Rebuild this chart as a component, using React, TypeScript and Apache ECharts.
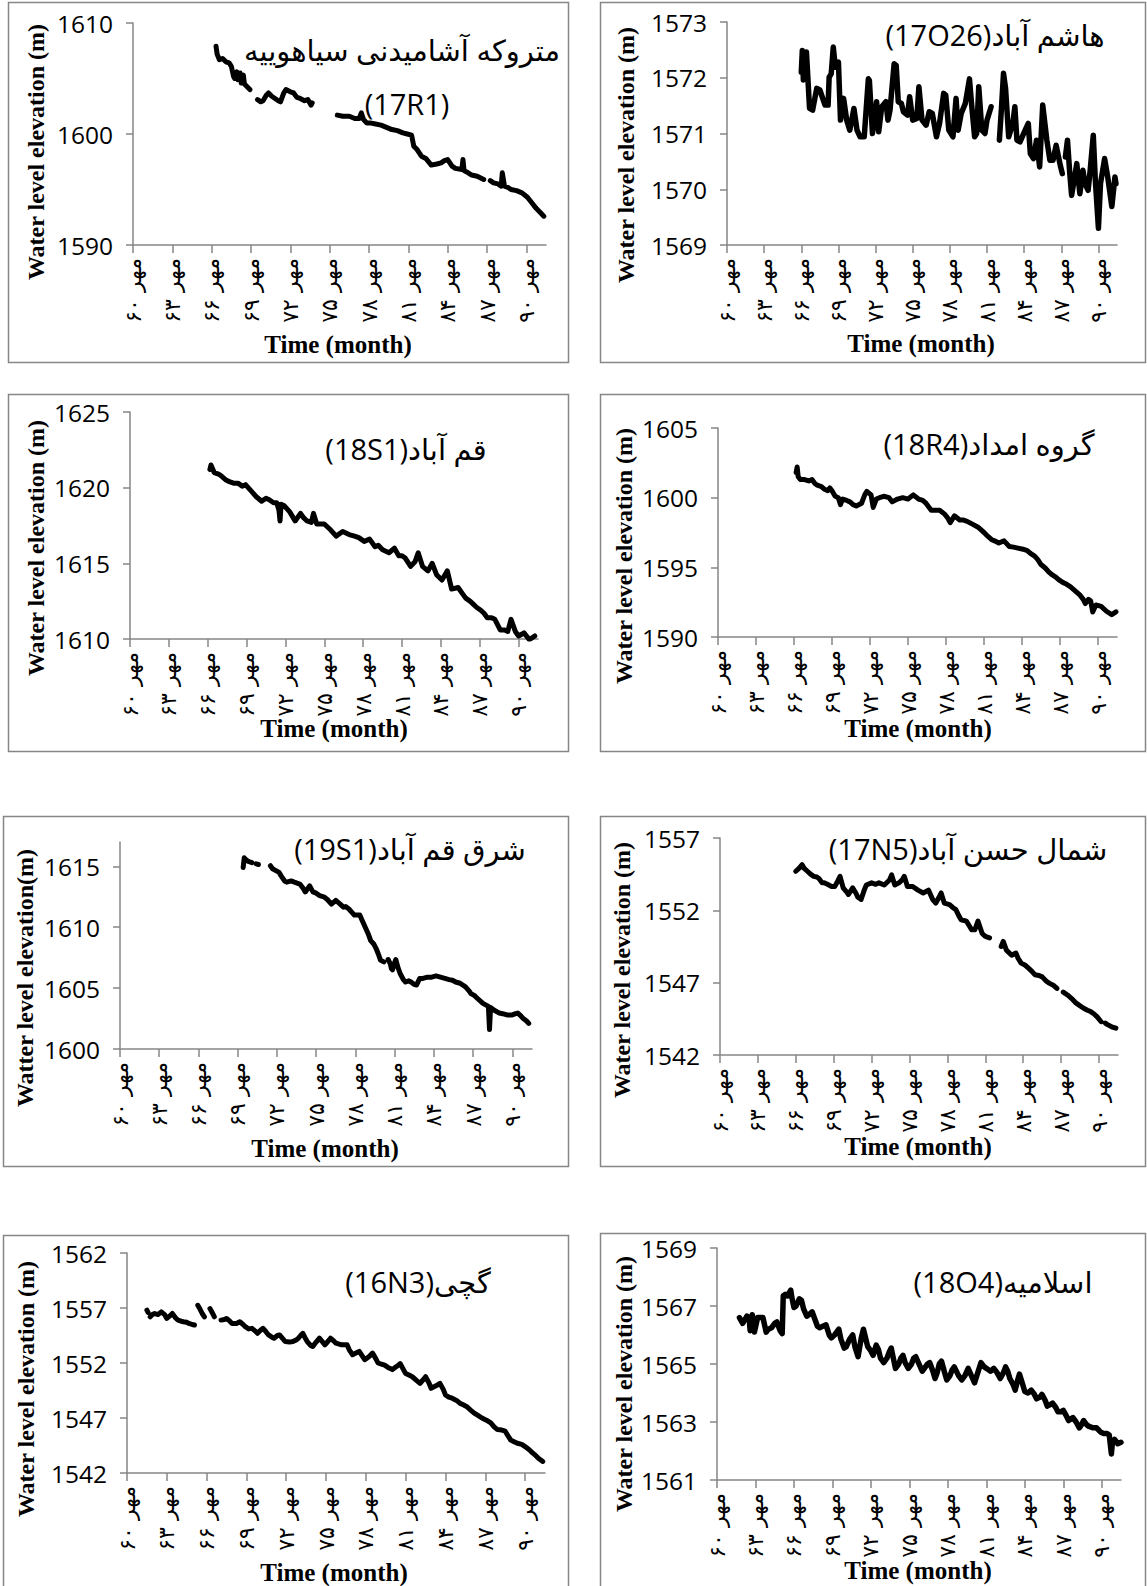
import React, { useEffect, useRef } from 'react';
import * as echarts from 'echarts';

// ---- axis ticks / labels ----
const MONTH_TICKS = [0, 36, 72, 108, 144, 180, 216, 252, 288, 324, 360]; // months since Mehr 1360
const YEAR_LABELS = ['۶۰', '۶۳', '۶۶', '۶۹', '۷۲', '۷۵', '۷۸', '۸۱', '۸۴', '۸۷', '۹۰'];
const MONTH_NAME = 'مهر';
const X_MAX = 378;
const X_TITLE = 'Time (month)';
const Y_TITLE = 'Water level elevation (m)';
const Y_TITLE_19S1 = 'Watter level elevation(m)';

// ---- well names ----
const TITLE_17R1_A = 'متروکه آشامیدنی سیاهوییه';
const TITLE_17R1_B = '(17R1)';
const TITLE_17O26 = '(17O26)هاشم آباد';
const TITLE_18S1 = '(18S1)قم آباد';
const TITLE_18R4 = '(18R4)گروه امداد';
const TITLE_19S1 = '(19S1)شرق قم آباد';
const TITLE_17N5 = '(17N5)شمال حسن آباد';
const TITLE_16N3 = '(16N3)گچی';
const TITLE_18O4 = '(18O4)اسلامیه';

// ---- y ticks ----
const Y_17R1 = [1590, 1600, 1610];
const Y_17O26 = [1569, 1570, 1571, 1572, 1573];
const Y_18S1 = [1610, 1615, 1620, 1625];
const Y_18R4 = [1590, 1595, 1600, 1605];
const Y_19S1 = [1600, 1605, 1610, 1615];
const Y_19S1_MAX = 1617;
const Y_17N5 = [1542, 1547, 1552, 1557];
const Y_16N3 = [1542, 1547, 1552, 1557, 1562];
const Y_18O4 = [1561, 1563, 1565, 1567, 1569];

// ---- series: [month since Mehr 60, water level (m)], null = gap ----
const S_17R1: [number, number | null][] = [[76,1607.9],[77,1607.2],[79,1606.7],[82,1606.8],[85,1606.5],[88,1606.4],[90,1606.1],[92,1605.2],[93,1605.0],[95,1605.6],[96,1604.9],[98,1605.5],[99,1604.6],[101,1605.3],[102,1604.5],[104,1604.3],[107,1604.0],[110,null],[114,1603.1],[117,1602.9],[119,1603.0],[122,1603.5],[124,1603.7],[127,1603.4],[130,1603.2],[133,1603.0],[135,1602.9],[138,1603.7],[140,1604.0],[144,1603.8],[147,1603.7],[150,1603.3],[153,1603.2],[157,1603.0],[160,1603.1],[163,1602.6],[164,1602.8],[175,null],[187,1601.7],[192,1601.6],[198,1601.6],[203,1601.4],[207,1601.4],[209,1601.9],[211,1601.3],[214,1601.0],[217,1601.0],[222,1600.9],[227,1600.8],[232,1600.6],[237,1600.4],[242,1600.3],[247,1600.1],[251,1600.0],[255,1599.9],[257,1598.9],[260,1598.6],[264,1598.0],[268,1597.8],[273,1597.2],[278,1597.3],[282,1597.4],[285,1597.6],[288,1597.7],[292,1597.1],[295,1596.9],[301,1596.8],[302,1597.7],[303,1596.7],[305,1596.6],[310,1596.3],[315,1596.2],[321,1595.9],[324,null],[327,1595.8],[330,1595.6],[334,1595.5],[337,1595.3],[338,1596.5],[340,1595.3],[343,1595.2],[346,1595.0],[351,1594.9],[356,1594.7],[361,1594.3],[365,1593.8],[369,1593.3],[373,1592.9],[376,1592.6]];

const S_17O26: [number, number | null][] = [[72,1572.10],[73,1572.49],[74,1571.96],[77,1572.46],[80,1571.45],[83,1571.42],[87,1571.81],[90,1571.78],[95,1571.51],[98,1571.51],[99,1572.01],[101,1572.07],[103,1572.55],[105,1572.19],[108,1572.28],[110,1571.24],[113,1571.63],[116,1571.24],[119,1571.06],[123,1571.45],[126,1571.06],[129,1570.94],[133,1570.94],[137,1571.98],[138,1571.95],[141,1571.0],[145,1571.57],[147,1571.03],[150,1571.48],[154,1571.57],[156,1571.24],[158,1571.42],[162,1572.25],[164,1572.22],[166,1571.57],[169,1571.54],[171,1571.39],[175,1571.33],[177,1571.66],[180,1571.24],[184,1571.27],[186,1571.84],[189,1571.24],[193,1571.15],[196,1571.39],[199,1571.36],[203,1570.94],[206,1571.18],[210,1571.72],[212,1571.69],[215,1571.06],[219,1570.94],[222,1571.63],[224,1571.06],[227,1571.36],[231,1571.54],[235,1571.98],[237,1571.54],[240,1570.94],[242,1571.0],[244,1571.84],[247,1571.06],[250,1571.0],[252,1571.24],[256,1571.48],[260,null],[264,1570.88],[266,1571.45],[268,1572.08],[270,1571.81],[273,1570.94],[277,1571.18],[279,1571.48],[281,1570.88],[284,1570.85],[289,1571.06],[292,1571.18],[294,1570.64],[297,1570.55],[300,1570.88],[303,1570.40],[306,1571.51],[310,1570.88],[313,1570.52],[316,1570.52],[319,1570.79],[323,1570.43],[325,1570.28],[327,null],[328,1570.58],[330,1570.88],[332,1570.34],[334,1569.89],[337,1570.22],[339,1570.46],[342,1569.92],[345,1570.34],[347,1570.10],[350,1569.98],[352,1570.34],[355,1570.97],[357,1570.16],[360,1569.30],[362,1570.10],[366,1570.55],[369,1570.22],[373,1569.69],[376,1570.22],[377,1570.10]];

const S_18S1: [number, number | null][] = [[74,1621.2],[75,1621.5],[78,1621.0],[82,1620.9],[85,1620.75],[89,1620.5],[92,1620.4],[96,1620.3],[100,1620.3],[104,1620.1],[107,1620.2],[112,1619.8],[117,1619.4],[122,1619.1],[126,1619.3],[129,1619.2],[133,1619.0],[136,1619.0],[138,1618.5],[139,1617.8],[140,1618.9],[143,1618.8],[148,1618.4],[153,1617.8],[158,1618.3],[161,1618.0],[164,1617.8],[168,1617.7],[170,1618.3],[173,1617.6],[176,1617.6],[180,1617.6],[183,1617.4],[186,1617.2],[191,1616.8],[197,1617.1],[203,1616.9],[208,1616.8],[212,1616.7],[217,1616.45],[222,1616.6],[227,1616.1],[230,1616.2],[234,1615.9],[240,1615.7],[245,1616.0],[249,1615.5],[252,1615.5],[255,1615.35],[260,1614.8],[264,1615.1],[267,1615.7],[271,1614.8],[276,1614.5],[280,1615.0],[284,1614.25],[289,1613.9],[294,1614.5],[298,1613.3],[304,1613.4],[308,1613.0],[311,1612.7],[315,1612.5],[318,1612.3],[321,1612.1],[325,1611.9],[328,1611.7],[331,1611.4],[335,1611.4],[338,1611.3],[343,1610.6],[347,1610.6],[350,1610.5],[353,1611.3],[357,1610.5],[360,1610.2],[365,1610.4],[370,1609.96],[375,1610.2]];

const S_18R4: [number, number | null][] = [[74,1601.8],[75,1602.2],[76,1601.5],[78,1601.3],[82,1601.3],[86,1601.2],[89,1601.3],[92,1601.0],[94,1600.9],[98,1600.8],[101,1600.6],[104,1600.5],[106,1600.7],[108,1600.5],[111,1600.1],[114,1600.0],[116,1599.5],[118,1599.9],[122,1599.8],[125,1599.7],[128,1599.5],[131,1599.4],[136,1599.6],[139,1600.2],[141,1600.45],[145,1600.2],[147,1599.3],[150,1599.9],[153,1600.0],[157,1600.1],[162,1600.0],[165,1599.7],[170,1599.9],[175,1600.0],[180,1599.9],[185,1600.2],[190,1599.9],[194,1599.8],[197,1599.6],[202,1599.1],[206,1599.1],[210,1599.1],[215,1598.8],[218,1598.5],[220,1598.2],[224,1598.7],[229,1598.4],[232,1598.4],[236,1598.3],[241,1598.1],[246,1597.9],[249,1597.7],[252,1597.5],[256,1597.2],[259,1597.0],[262,1596.9],[266,1596.75],[271,1596.9],[276,1596.5],[280,1596.45],[283,1596.4],[289,1596.3],[293,1596.2],[296,1596.0],[300,1595.8],[303,1595.55],[306,1595.2],[310,1594.95],[313,1594.7],[316,1594.5],[320,1594.3],[323,1594.1],[327,1593.9],[330,1593.8],[334,1593.6],[337,1593.4],[340,1593.2],[343,1593.0],[346,1592.7],[348,1592.4],[351,1592.7],[353,1592.6],[355,1591.8],[358,1592.3],[363,1592.2],[368,1591.85],[373,1591.6],[377,1591.8]];

const S_19S1: [number, number | null][] = [[113,1614.9],[114,1615.7],[116,1615.5],[118,1615.4],[121,1615.3],[123,null],[125,1615.2],[127,1615.15],[132,null],[138,1615.05],[140,1614.8],[143,1614.65],[146,1614.5],[148,1614.2],[151,1613.8],[153,1613.7],[157,1613.8],[160,1613.7],[165,1613.55],[168,1613.2],[170,1612.9],[174,1613.4],[177,1612.9],[180,1612.8],[183,1612.6],[187,1612.5],[190,1612.3],[194,1611.9],[198,1612.2],[202,1611.9],[205,1611.65],[207,1611.7],[210,1611.5],[213,1611.2],[215,1611.0],[220,1611.0],[222,1610.6],[225,1610.0],[228,1609.4],[230,1608.9],[233,1608.6],[235,1608.25],[237,1607.8],[239,1607.3],[242,1607.15],[244,null],[246,1607.35],[248,1607.0],[249,1606.6],[250,1606.5],[252,1607.1],[253,1607.35],[255,1606.7],[257,1606.2],[260,1605.7],[262,1605.5],[265,1605.6],[267,1605.5],[270,1605.3],[272,1605.25],[275,1605.8],[278,1605.8],[282,1605.9],[286,1605.9],[290,1606.0],[294,1605.9],[298,1605.8],[302,1605.7],[305,1605.65],[308,1605.5],[312,1605.4],[317,1605.1],[320,1604.8],[322,1604.55],[325,1604.4],[328,1604.15],[333,1603.75],[338,1603.5],[339,1601.6],[340,1603.4],[343,1603.2],[348,1602.95],[351,1602.9],[355,1602.8],[360,1602.8],[363,1602.9],[365,1602.95],[368,1602.7],[370,1602.5],[373,1602.3],[375,1602.1]];

const S_17N5: [number, number | null][] = [[72,1554.7],[75,1554.9],[78,1555.15],[80,1554.9],[83,1554.7],[86,1554.5],[89,1554.35],[92,1554.3],[94,1554.2],[97,1553.9],[99,1553.9],[102,1553.8],[106,1553.65],[109,1553.65],[111,1553.9],[114,1554.35],[117,1553.55],[120,1553.3],[122,1553.1],[126,1553.55],[129,1553.2],[131,1552.9],[134,1552.75],[137,1553.4],[139,1553.75],[144,1553.9],[148,1553.8],[151,1553.9],[156,1553.75],[161,1554.1],[163,1554.45],[166,1553.75],[170,1553.9],[173,1554.1],[175,1554.35],[178,1553.65],[183,1553.65],[188,1553.4],[193,1553.2],[198,1553.4],[202,1552.75],[205,1552.5],[208,1552.9],[210,1553.2],[213,1552.5],[218,1552.4],[221,1552.2],[224,1552.05],[227,1551.6],[229,1551.35],[234,1551.25],[237,1550.9],[239,1550.65],[242,1550.65],[245,1551.25],[249,1550.4],[252,1550.2],[256,1550.1],[261,null],[267,1549.5],[269,1549.85],[272,1549.25],[277,1548.9],[281,1549.05],[283,1548.7],[286,1548.35],[290,1548.2],[293,1548.0],[296,1547.8],[299,1547.55],[303,1547.5],[306,1547.4],[310,1547.1],[313,1546.95],[317,1546.8],[320,1546.6],[323,null],[326,1546.35],[330,1546.15],[334,1545.9],[338,1545.6],[341,1545.45],[345,1545.25],[349,1545.1],[352,1545.0],[355,1544.85],[358,1544.65],[362,1544.3],[364,null],[366,1544.2],[368,1544.1],[372,1543.95],[376,1543.85]];

const S_16N3: [number, number | null][] = [[18,1556.8],[19,1556.6],[20,null],[21,1556.2],[23,1556.4],[25,1556.5],[28,1556.4],[31,1556.65],[34,1556.4],[36,1556.05],[39,1556.3],[41,1556.5],[44,1556.1],[46,1555.9],[49,1555.8],[51,1555.75],[54,1555.7],[56,1555.6],[59,1555.5],[61,1555.45],[62,null],[64,1557.25],[66,1556.9],[68,1556.5],[70,1556.2],[72,null],[75,1556.95],[77,1556.6],[79,1556.2],[82,null],[85,1555.9],[88,1555.95],[90,1556.05],[93,1555.8],[95,1555.6],[99,1555.6],[102,1555.75],[105,1555.5],[107,1555.3],[110,1555.1],[113,1555.15],[116,1554.9],[118,1554.7],[121,1555.0],[123,1555.15],[126,1554.8],[128,1554.55],[131,1554.35],[133,1554.25],[136,1554.5],[138,1554.55],[141,1554.2],[143,1553.95],[147,1553.9],[150,1553.95],[153,1554.1],[155,1554.25],[157,1554.5],[159,1554.7],[161,1554.3],[163,1553.95],[166,1553.6],[168,1553.5],[171,1553.9],[174,1554.25],[177,1553.9],[179,1553.65],[182,1554.0],[184,1554.25],[187,1554.0],[189,1553.8],[194,1553.65],[199,1553.65],[201,1553.2],[204,1552.75],[207,1552.9],[210,1553.05],[213,1552.6],[215,1552.3],[219,1552.6],[222,1552.9],[225,1552.4],[227,1552.0],[230,1551.9],[233,1551.8],[236,1551.6],[240,1551.4],[244,1551.7],[247,1551.95],[250,1551.4],[252,1551.05],[255,1550.9],[258,1550.75],[262,1550.4],[265,1550.15],[268,1550.5],[270,1550.75],[273,1550.2],[275,1549.7],[279,1549.9],[283,1550.15],[286,1549.6],[288,1549.1],[291,1548.9],[294,1548.8],[298,1548.6],[301,1548.35],[304,1548.2],[307,1548.05],[311,1547.7],[314,1547.45],[318,1547.2],[321,1547.0],[325,1546.8],[329,1546.55],[332,1546.2],[335,1545.95],[339,1545.9],[342,1545.8],[345,1545.3],[347,1545.0],[350,1544.85],[353,1544.7],[357,1544.6],[360,1544.4],[364,1544.1],[367,1543.8],[370,1543.55],[372,1543.35],[376,1543.05]];

const S_18O4: [number, number | null][] = [[21,1566.6],[24,1566.4],[28,1566.65],[30,1566.6],[31,1566.15],[33,1566.7],[35,1566.1],[38,1566.6],[43,1566.6],[46,1566.1],[48,1566.2],[51,1566.25],[54,1566.4],[56,1566.45],[59,1566.15],[61,1566.05],[62,1567.35],[64,1567.4],[66,1567.35],[69,1567.55],[70,1567.3],[72,1566.95],[74,1567.0],[77,1567.25],[79,1567.2],[81,1566.9],[84,1566.65],[86,1566.7],[89,1566.8],[92,1566.5],[94,1566.3],[96,1566.25],[99,1566.3],[102,1566.35],[105,1566.0],[107,1565.9],[110,1566.0],[114,1566.2],[116,1565.85],[119,1565.55],[121,1565.6],[124,1565.85],[127,1566.0],[129,1565.6],[132,1565.25],[135,1565.9],[137,1566.2],[139,1565.9],[141,1565.6],[144,1565.45],[146,1565.3],[149,1565.65],[151,1565.5],[153,1565.2],[156,1565.05],[159,1565.2],[161,1565.4],[163,1565.55],[165,1565.2],[167,1564.85],[170,1565.0],[172,1565.2],[174,1565.3],[176,1565.05],[179,1564.85],[182,1565.0],[184,1565.2],[186,1565.25],[189,1565.0],[192,1564.75],[195,1564.9],[197,1565.0],[199,1565.05],[202,1564.75],[204,1564.5],[206,1564.7],[208,1565.0],[210,1565.1],[213,1564.7],[215,1564.45],[218,1564.6],[220,1564.8],[222,1564.9],[226,1564.6],[229,1564.45],[232,1564.6],[235,1564.85],[238,1564.6],[241,1564.35],[244,1564.7],[247,1565.05],[250,1564.9],[254,1564.8],[256,1564.75],[259,1564.85],[262,1564.7],[265,1564.5],[268,1564.7],[270,1564.9],[272,1564.75],[274,1564.5],[277,1564.3],[279,1564.1],[281,1564.4],[283,1564.65],[286,1564.3],[288,1564.05],[291,1564.0],[294,1564.1],[297,1563.95],[299,1563.8],[302,1563.85],[304,1563.95],[307,1563.75],[309,1563.55],[312,1563.6],[314,1563.65],[317,1563.5],[319,1563.35],[322,1563.35],[324,1563.4],[327,1563.2],[329,1563.05],[331,1563.1],[333,1563.15],[336,1563.0],[339,1562.8],[341,1562.9],[343,1563.05],[346,1562.9],[348,1562.85],[352,1562.8],[355,1562.8],[359,1562.65],[362,1562.6],[365,1562.6],[367,1562.55],[369,1561.9],[370,1562.3],[372,1562.4],[375,1562.25],[378,1562.3]];

// ---- layout (pixels) ----
type Panel = {
  data: [number, number | null][];
  yTicks: number[];
  yMax?: number;
  grid: [number, number, number, number]; // left, top, width, height
  box: [number, number, number, number];
  titles: { text: string; x: number; y: number }[];
  yTitle: string;
  yTitlePos: [number, number];
  xTitlePos: [number, number];
  lw: number;
};

const PANELS: Panel[] = [
  { data: S_17R1, yTicks: Y_17R1, grid: [133, 23, 413, 222], box: [8, 2, 560, 360],
    titles: [{ text: TITLE_17R1_A, x: 402, y: 49 }, { text: TITLE_17R1_B, x: 407, y: 103 }],
    yTitle: Y_TITLE, yTitlePos: [36, 152], xTitlePos: [338, 344], lw: 5 },
  { data: S_17O26, yTicks: Y_17O26, grid: [727, 22, 390, 223], box: [600, 2, 545, 360],
    titles: [{ text: TITLE_17O26, x: 995, y: 34 }],
    yTitle: Y_TITLE, yTitlePos: [626, 155], xTitlePos: [921, 343], lw: 5.5 },
  { data: S_18S1, yTicks: Y_18S1, grid: [130, 412, 408, 227], box: [8, 394, 560, 357],
    titles: [{ text: TITLE_18S1, x: 406, y: 448 }],
    yTitle: Y_TITLE, yTitlePos: [36, 548], xTitlePos: [334, 728], lw: 5 },
  { data: S_18R4, yTicks: Y_18R4, grid: [718, 428, 399, 209], box: [600, 394, 545, 357],
    titles: [{ text: TITLE_18R4, x: 989, y: 443 }],
    yTitle: Y_TITLE, yTitlePos: [624, 556], xTitlePos: [918, 728], lw: 5 },
  { data: S_19S1, yTicks: Y_19S1, yMax: Y_19S1_MAX, grid: [120, 842, 412, 207], box: [3, 816, 565, 350],
    titles: [{ text: TITLE_19S1, x: 410, y: 848 }],
    yTitle: Y_TITLE_19S1, yTitlePos: [25, 978], xTitlePos: [325, 1148], lw: 5 },
  { data: S_17N5, yTicks: Y_17N5, grid: [720, 838, 398, 217], box: [600, 816, 545, 350],
    titles: [{ text: TITLE_17N5, x: 968, y: 848 }],
    yTitle: Y_TITLE, yTitlePos: [622, 970], xTitlePos: [918, 1146], lw: 5 },
  { data: S_16N3, yTicks: Y_16N3, grid: [127, 1253, 418, 220], box: [3, 1235, 565, 380],
    titles: [{ text: TITLE_16N3, x: 418, y: 1281 }],
    yTitle: Y_TITLE, yTitlePos: [26, 1389], xTitlePos: [334, 1572], lw: 5 },
  { data: S_18O4, yTicks: Y_18O4, grid: [717, 1248, 404, 232], box: [600, 1233, 545, 380],
    titles: [{ text: TITLE_18O4, x: 1003, y: 1281 }],
    yTitle: Y_TITLE, yTitlePos: [624, 1384], xTitlePos: [918, 1570], lw: 5.5 },
];

const AXIS_GRAY = '#868686';

function buildOption() {
  const grid = PANELS.map((p) => ({ left: p.grid[0], top: p.grid[1], width: p.grid[2], height: p.grid[3] }));
  const xAxis = PANELS.map((p, i) => ({
    type: 'value', gridIndex: i, min: 0, max: X_MAX,
    splitLine: { show: false },
    axisLine: { show: true, onZero: false, lineStyle: { color: AXIS_GRAY, width: 1.5 } },
    axisTick: { show: true, customValues: MONTH_TICKS, length: 8, lineStyle: { color: AXIS_GRAY, width: 1.5 } },
    axisLabel: {
      customValues: MONTH_TICKS, rotate: 90, margin: 13, color: '#000',
      fontFamily: 'DejaVu Sans', fontSize: 22,
      formatter: (v: number) => `${MONTH_NAME} ${YEAR_LABELS[MONTH_TICKS.indexOf(v)]}`,
    },
  }));
  const yAxis = PANELS.map((p, i) => ({
    type: 'value', gridIndex: i, min: p.yTicks[0], max: p.yMax ?? p.yTicks[p.yTicks.length - 1],
    splitLine: { show: false },
    axisLine: { show: true, onZero: false, lineStyle: { color: AXIS_GRAY, width: 1.5 } },
    axisTick: { show: true, customValues: p.yTicks, length: 7, lineStyle: { color: AXIS_GRAY, width: 1.5 } },
    axisLabel: { customValues: p.yTicks, margin: 20, color: '#000', fontFamily: 'Open Sans', fontSize: 24.5,
      formatter: (v: number) => String(v) },
  }));
  const series = PANELS.map((p, i) => ({
    type: 'line', xAxisIndex: i, yAxisIndex: i, showSymbol: false, symbol: 'none',
    connectNulls: false, clip: true,
    lineStyle: { color: '#000', width: p.lw, join: 'round', cap: 'round' },
    data: p.data.map((d) => [d[0], d[1] === null ? '-' : d[1]]),
  }));
  const graphic: any[] = [];
  PANELS.forEach((p) => {
    graphic.push({ type: 'rect', silent: true, shape: { x: p.box[0] + 0.5, y: p.box[1] + 0.5, width: p.box[2], height: p.box[3] },
      style: { fill: 'none', stroke: AXIS_GRAY, lineWidth: 1.5 } });
    p.titles.forEach((t) => graphic.push({ type: 'text', x: t.x, y: t.y, silent: true,
      style: { text: t.text, fill: '#000', fontSize: 29, fontFamily: '"Open Sans", "DejaVu Sans"', textAlign: 'center', textVerticalAlign: 'middle', align: 'center', verticalAlign: 'middle' } }));
    graphic.push({ type: 'text', x: p.yTitlePos[0], y: p.yTitlePos[1], rotation: Math.PI / 2, silent: true,
      style: { text: p.yTitle, fill: '#000', fontSize: 24, fontWeight: 'bold', fontFamily: '"Liberation Serif"', textAlign: 'center', textVerticalAlign: 'middle', align: 'center', verticalAlign: 'middle' } });
    graphic.push({ type: 'text', x: p.xTitlePos[0], y: p.xTitlePos[1], silent: true,
      style: { text: X_TITLE, fill: '#000', fontSize: 25, fontWeight: 'bold', fontFamily: '"Liberation Serif"', textAlign: 'center', textVerticalAlign: 'middle', align: 'center', verticalAlign: 'middle' } });
  });
  return { animation: false, backgroundColor: '#fff', grid, xAxis, yAxis, series, graphic };
}

export default function App() {
  const ref = useRef<HTMLDivElement>(null);
  useEffect(() => {
    if (!ref.current) return;
    const chart = echarts.init(ref.current, undefined, { renderer: 'svg' });
    chart.setOption(buildOption() as any);
    return () => chart.dispose();
  }, []);
  return <div ref={ref} style={{ position: 'absolute', left: 0, top: 0, width: 1147, height: 1586 }} />;
}
